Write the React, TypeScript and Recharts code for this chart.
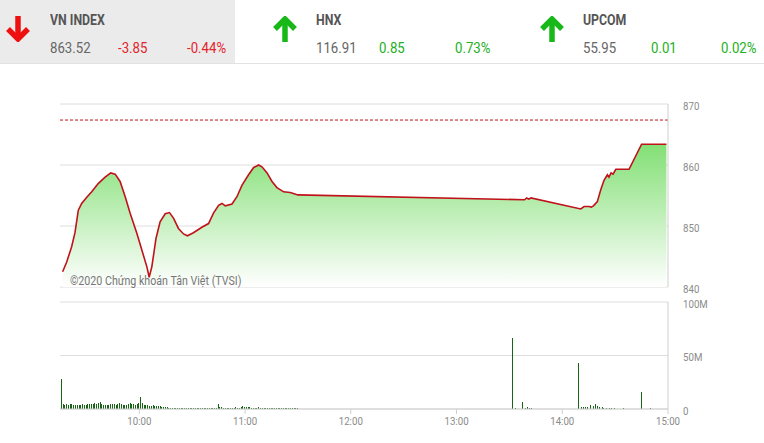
import { AreaChart, Area, BarChart, Bar, XAxis, YAxis, CartesianGrid, ReferenceLine } from "recharts";

const FONT = "Roboto, 'Noto Sans', sans-serif";

// header quotes
const indexNames = ["VN INDEX", "HNX", "UPCOM"];
const indexValues = ["863.52", "116.91", "55.95"];
const indexChanges = ["-3.85", "0.85", "0.01"];
const indexPercents = ["-0.44%", "0.73%", "0.02%"];
const indexUp = [false, true, true];

// price line, time = minutes after 9:00
const prevClose = 867.37;
const priceTicks = [840, 850, 860, 870];
const priceTimes = [
  16.5, 18.8, 21.6, 23.5, 25.4, 27.3, 30.2, 33, 36.8, 40.6, 43.8, 46.3, 49.1, 52, 54.8, 58.6,
  61.4, 64.3, 65.6, 67.1, 69.5, 71.8, 74.7, 77.1, 79.4, 82.2, 85.1, 87.3, 90.7, 95.5, 99.3,
  102.1, 105, 106.9, 108.8, 112.6, 115.4, 118.3, 122, 124.9, 127.7, 129.6, 132.5, 135.3, 138.1,
  141.9, 145.7, 150, 278.6, 279.8, 281, 282.2, 310.5, 312.4, 315.2, 316.5, 317.7, 319.9, 321.8,
  323.7, 325.6, 326.5, 327.7, 328.8, 330.4, 337.9, 345, 359.1,
];
const priceValues = [
  842.5, 844.1, 846.6, 848.9, 852.6, 853.7, 854.7, 855.6, 857, 858, 858.7, 858.5, 857.3, 854.8, 852.1, 848.8,
  846.1, 843.3, 841.6, 843.3, 848, 850.7, 852, 852.2, 851.3, 849.6, 848.7, 848.4, 848.9, 849.8, 850.4,
  852.1, 853.4, 853.7, 853.3, 853.6, 854.8, 856.7, 858.4, 859.6, 860, 859.7, 858.7, 857.3, 856.3,
  855.6, 855.5, 855.1, 854.3, 854.6, 854.4, 854.6, 852.8, 853.2, 853.2, 853.1, 853.3, 854, 855.9,
  857.5, 858.4, 858, 858.7, 858.5, 859.3, 859.3, 863.4, 863.4,
];

const timeTicks = [60, 120, 180, 240, 300, 360];
const timeLabels = ["10:00", "11:00", "12:00", "13:00", "14:00", "15:00"];

// volume (millions), morning one bar per minute from 9:16
const morningStart = 16;
const morningVolumes = [
  28,
  4.5, 4, 4.5, 4, 5, 4.5, 4, 3.5, 4, 4, 3.5, 4.5, 4,
  4, 4.5, 4.5, 5, 5, 6, 5, 6, 6.5, 5, 4, 4, 4, 4, 4.5, 5,
  4.5, 4, 5, 5.5, 4.5, 4, 3.5, 4, 5, 6, 5, 4.5, 4, 5, 6,
  11,
  6, 4, 3.5, 3.5, 3, 3, 3.5, 3, 2.5, 3, 2.5, 2, 2, 1.5,
  1.5, 1.2, 1, 1.2, 1, 0.8, 1, 1.2, 1, 1, 0.8, 1, 1, 1.2, 0.8, 1, 1, 0.8, 1, 1.2, 1, 1, 0.8, 1, 1, 1.2, 1, 1, 1,
  4.5,
  1.5, 2, 1, 1, 0.8, 1, 1, 1.2, 1, 1.5, 1, 1, 2, 2.5, 1.5, 2, 1.5, 1.5, 1.2, 1, 1.2, 1, 1.5, 1, 1, 1, 0.8,
  1.2, 1, 1, 0.8, 1, 1, 0.8, 1, 1, 0.8, 1, 0.8, 1, 0.8, 1, 1, 0.8, 1,
];
const afternoonTimes = [
  271.7, 273.5, 277.9, 279.2, 280.4, 281.6, 282.8, 309.6, 311.1, 312.4, 313.5, 314.8, 316.4, 317.7,
  319, 320.2, 321.5, 322.8, 323.9, 325.3, 326.8, 328.1, 329.6, 334.7, 345.1, 350.4,
];
const afternoonVolumes = [
  66.5, 0.5, 7, 1, 1.5, 1, 1.2, 43, 1.5, 1.5, 2, 2, 3.8, 2.5,
  4.4, 2.5, 1.8, 1.5, 1.2, 1.2, 1, 1, 1.2, 0.5, 16, 0.5,
];
const volumeTicks = [0, 50, 100];
const volumeLabels = ["0", "50M", "100M"];

const headerX = [50, 316, 583];
const changeX = [118, 379, 651];
const percentX = [187, 455, 721];
const arrowX = [4, 271, 538];

const RED = "#e3242b";
const GREEN = "#22b022";

function Arrow({ up, left }: { up: boolean; left: number }) {
  const color = up ? "#17b817" : "#ee1010";
  return (
    <svg width={28} height={26} style={{ position: "absolute", left, top: 16 }}>
      {up ? (
        <g stroke={color} strokeWidth={5.5} fill="none" strokeLinejoin="miter">
          <line x1={14} y1={26} x2={14} y2={5} />
          <polyline points="4,13 14,3 24,13" />
        </g>
      ) : (
        <g stroke={color} strokeWidth={5.5} fill="none" strokeLinejoin="miter">
          <line x1={14} y1={0} x2={14} y2={21} />
          <polyline points="4,13 14,23 24,13" />
        </g>
      )}
    </svg>
  );
}

function Cond({ x, y, size, color, bold, children }: any) {
  return (
    <div style={{
      position: "absolute", left: x, top: y, fontSize: size, lineHeight: 1, color,
      fontWeight: bold ? 700 : 400, transform: "scaleX(0.88)", transformOrigin: "left top", whiteSpace: "nowrap",
    }}>{children}</div>
  );
}

function RightTick(props: any) {
  const { x, y, payload, labels, ticks } = props;
  const idx = ticks ? ticks.indexOf(payload.value) : -1;
  const text = idx >= 0 && labels ? labels[idx] : String(payload.value);
  return (
    <g transform={`translate(${x},${y + 2}) scale(0.88,1)`}>
      <text x={0} y={0} dy="0.355em" textAnchor="start" fill="#8a8a8a" fontSize={11} fontFamily={FONT}>{text}</text>
    </g>
  );
}

function TimeTick(props: any) {
  const { x, y, payload } = props;
  const idx = timeTicks.indexOf(payload.value);
  return (
    <g transform={`translate(${x},${y}) scale(0.88,1)`}>
      <text x={0} y={0} dy="0.71em" textAnchor="middle" fill="#8a8a8a" fontSize={11} fontFamily={FONT}>{timeLabels[idx]}</text>
    </g>
  );
}

export default function App() {
  const priceData = priceTimes.map((t, i) => ({ t, v: priceValues[i] }));
  const volumeData = [
    ...morningVolumes.map((v, i) => ({ t: morningStart + i, v })),
    ...afternoonTimes.map((t, i) => ({ t, v: afternoonVolumes[i] })),
  ];

  return (
    <div style={{ position: "fixed", left: 0, top: 0, width: 764, height: 443, background: "#fff", fontFamily: FONT, overflow: "hidden" }}>
      <div style={{ position: "absolute", left: 0, top: 0, width: 235, height: 63, background: "#ebebeb" }} />
      <div style={{ position: "absolute", left: 0, top: 63, width: 764, height: 1, background: "#e2e2e2" }} />
      {indexNames.map((name, i) => {
        const col = indexUp[i] ? GREEN : RED;
        return (
          <div key={name}>
            <Arrow up={indexUp[i]} left={arrowX[i]} />
            <Cond x={headerX[i]} y={12.5} size={14} color="#555" bold>{name}</Cond>
            <Cond x={headerX[i]} y={40.5} size={15} color="#666">{indexValues[i]}</Cond>
            <Cond x={changeX[i]} y={40.5} size={15} color={col}>{indexChanges[i]}</Cond>
            <Cond x={percentX[i]} y={40.5} size={15} color={col}>{indexPercents[i]}</Cond>
          </div>
        );
      })}

      <div style={{ position: "absolute", left: 0, top: 0 }}>
        <AreaChart width={764} height={300} data={priceData} margin={{ top: 104, right: 56, left: 60, bottom: 13 }}>
          <defs>
            <linearGradient id="priceFill" x1="0" y1="0" x2="0" y2="1">
              <stop offset="0%" stopColor="#82df74" stopOpacity={1} />
              <stop offset="100%" stopColor="#ffffff" stopOpacity={1} />
            </linearGradient>
          </defs>
          <CartesianGrid vertical={false} stroke="#dedede" />
          <XAxis type="number" dataKey="t" domain={[15, 360]} hide allowDataOverflow />
          <YAxis
            orientation="right" type="number" domain={[840, 870]} ticks={priceTicks} width={40}
            axisLine={{ stroke: "#cfcfcf" }} tickLine={false} tickMargin={9}
            tick={(p: any) => <RightTick {...p} />}
          />
          <Area
            type="linear" dataKey="v" stroke="#c0121a" strokeWidth={1.6} fill="url(#priceFill)" fillOpacity={1}
            dot={false} activeDot={false} isAnimationActive={false}
          />
          <ReferenceLine y={prevClose} stroke="#c0121a" strokeDasharray="3 2" />
        </AreaChart>
      </div>

      <div style={{
        position: "absolute", left: 70, top: 274, fontSize: 13, lineHeight: 1, color: "#777",
        transform: "scaleX(0.82)", transformOrigin: "left top", whiteSpace: "nowrap",
      }}>©2020 Chứng khoán Tân Việt (TVSI)</div>

      <div style={{ position: "absolute", left: 0, top: 290 }}>
        <BarChart width={764} height={153} data={volumeData} margin={{ top: 12, right: 56, left: 60, bottom: 4 }} barSize={1}>
          <CartesianGrid vertical={false} stroke="#dedede" />
          <XAxis
            type="number" dataKey="t" domain={[15, 360]} ticks={timeTicks} interval={0} height={30} allowDataOverflow
            axisLine={{ stroke: "#cfcfcf" }} tickLine={{ stroke: "#cfcfcf" }} tickSize={5} tickMargin={3}
            tick={(p: any) => <TimeTick {...p} />}
          />
          <YAxis
            orientation="right" type="number" domain={[0, 100]} ticks={volumeTicks} width={40}
            axisLine={{ stroke: "#cfcfcf" }} tickLine={false} tickMargin={9}
            tick={(p: any) => <RightTick {...p} ticks={volumeTicks} labels={volumeLabels} />}
          />
          <Bar dataKey="v" fill="#176417" shapeRendering="crispEdges" isAnimationActive={false} />
        </BarChart>
      </div>
    </div>
  );
}
